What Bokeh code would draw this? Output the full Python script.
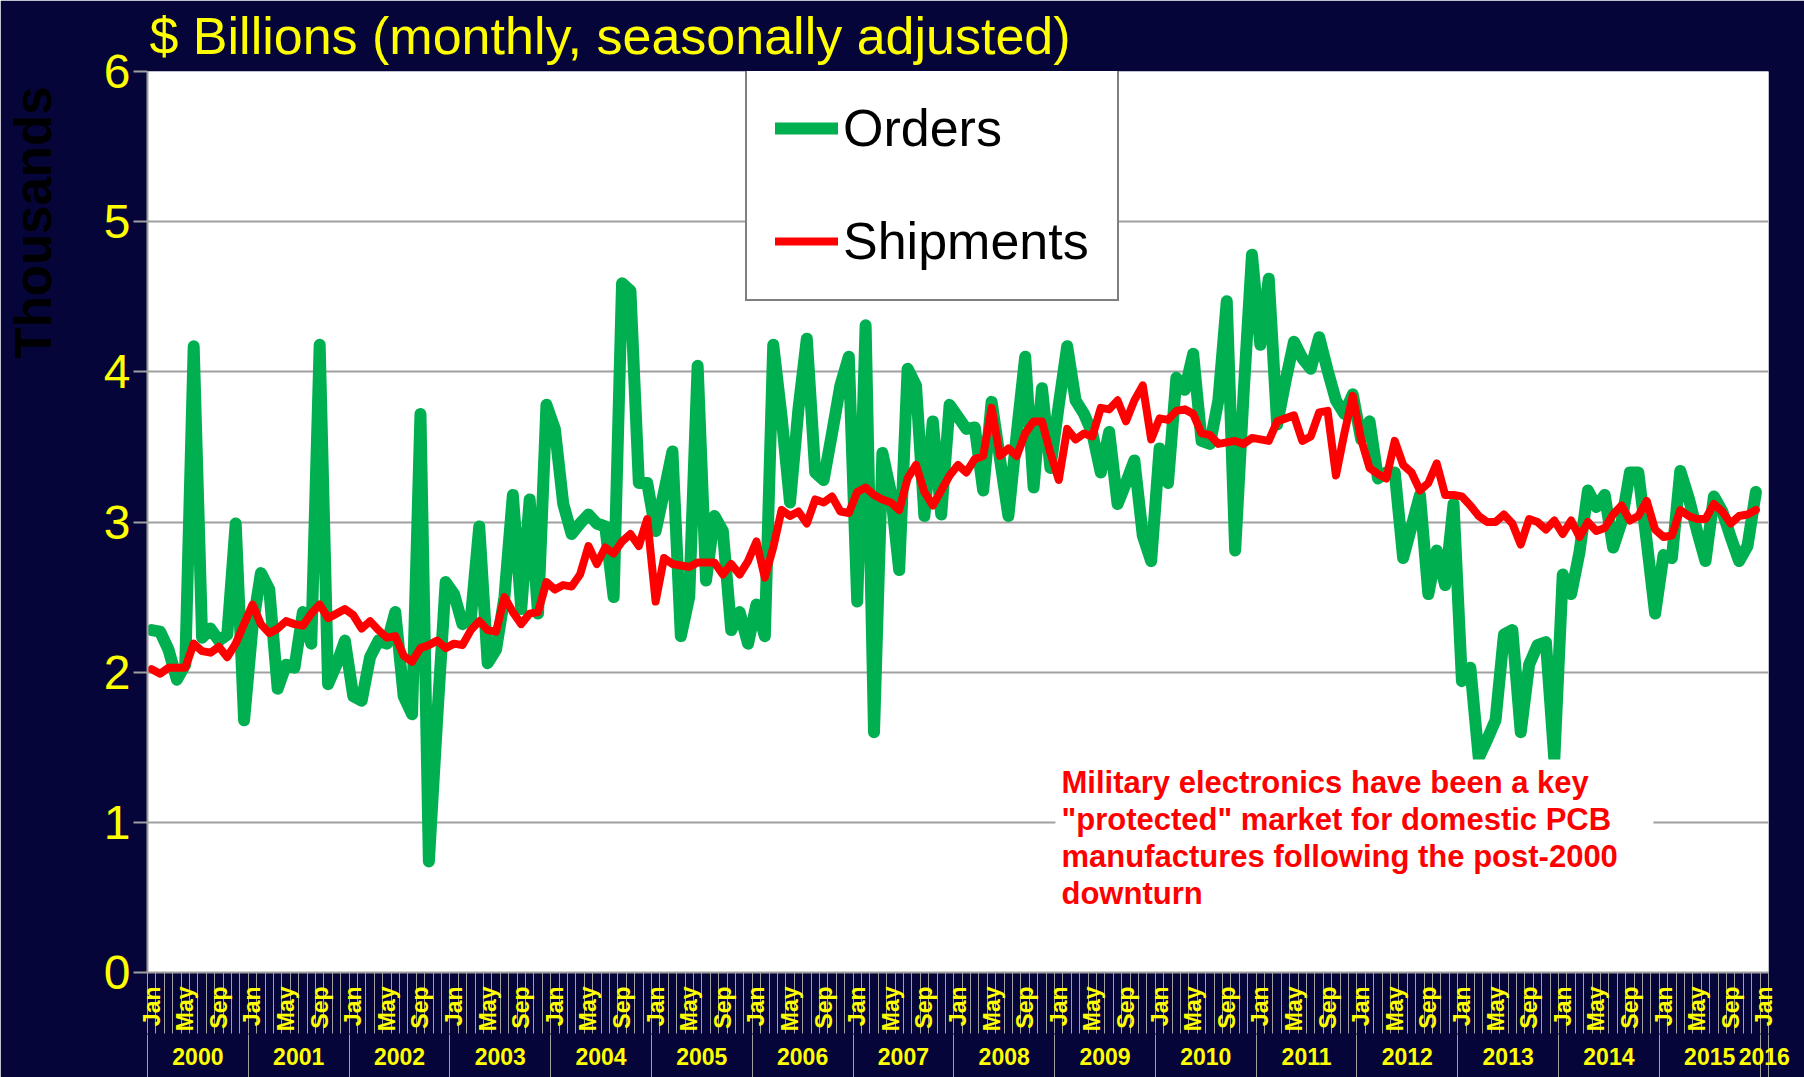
import math
from bokeh.plotting import figure
from bokeh.models import (Range1d, LinearAxis, FixedTicker, Label, Legend,
                          LegendItem, BoxAnnotation, Title)
from bokeh.embed import file_html
from bokeh.resources import INLINE

# ---------------- data (monthly, Jan 2000 .. Dec 2015) ----------------
orders = [
    2.28, 2.27, 2.15, 1.95, 2.05, 4.17, 2.23, 2.29, 2.21, 2.25,
    2.99, 1.68, 2.30, 2.66, 2.55, 1.89, 2.05, 2.03, 2.40, 2.19,
    4.18, 1.92, 2.05, 2.21, 1.84, 1.81, 2.10, 2.21, 2.19, 2.40,
    1.84, 1.72, 3.72, 0.74, 1.70, 2.60, 2.52, 2.32, 2.36, 2.97,
    2.06, 2.15, 2.50, 3.18, 2.42, 3.15, 2.39, 3.78, 3.62, 3.12,
    2.92, 2.99, 3.05, 2.99, 2.97, 2.50, 4.59, 4.54, 3.26, 3.26,
    2.94, 3.20, 3.47, 2.24, 2.50, 4.04, 2.61, 3.04, 2.94, 2.28,
    2.40, 2.19, 2.45, 2.24, 4.18, 3.70, 3.13, 3.75, 4.22, 3.33,
    3.28, 3.59, 3.91, 4.10, 2.47, 4.31, 1.60, 3.46, 3.20, 2.68,
    4.02, 3.91, 3.04, 3.67, 3.05, 3.78, 3.70, 3.62, 3.63, 3.21,
    3.80, 3.42, 3.04, 3.59, 4.10, 3.23, 3.89, 3.36, 3.78, 4.17,
    3.81, 3.72, 3.59, 3.33, 3.60, 3.12, 3.26, 3.41, 2.91, 2.74,
    3.49, 3.26, 3.96, 3.88, 4.12, 3.54, 3.52, 3.81, 4.47, 2.81,
    3.85, 4.78, 4.18, 4.62, 3.65, 3.94, 4.20, 4.09, 4.02, 4.23,
    4.01, 3.81, 3.72, 3.85, 3.55, 3.67, 3.29, 3.33, 3.33, 2.76,
    2.97, 3.18, 2.52, 2.81, 2.58, 3.12, 1.94, 2.03, 1.43, 1.55,
    1.68, 2.25, 2.28, 1.60, 2.05, 2.18, 2.20, 1.42, 2.65, 2.52,
    2.80, 3.21, 3.10, 3.18, 2.83, 3.00, 3.33, 3.33, 2.87, 2.39,
    2.78, 2.76, 3.34, 3.16, 2.94, 2.74, 3.17, 3.07, 2.90, 2.74,
    2.84, 3.20,
]
shipments = [
    2.02, 1.99, 2.03, 2.03, 2.03, 2.19, 2.14, 2.13, 2.17, 2.10,
    2.19, 2.32, 2.45, 2.32, 2.26, 2.29, 2.34, 2.32, 2.31, 2.39,
    2.45, 2.36, 2.39, 2.42, 2.38, 2.29, 2.34, 2.28, 2.23, 2.24,
    2.11, 2.07, 2.16, 2.18, 2.21, 2.16, 2.19, 2.18, 2.28, 2.34,
    2.28, 2.27, 2.50, 2.40, 2.32, 2.39, 2.40, 2.60, 2.55, 2.58,
    2.57, 2.65, 2.84, 2.72, 2.83, 2.79, 2.87, 2.92, 2.84, 3.02,
    2.47, 2.76, 2.72, 2.71, 2.70, 2.73, 2.73, 2.73, 2.65, 2.72,
    2.65, 2.74, 2.87, 2.63, 2.83, 3.08, 3.04, 3.07, 2.99, 3.15,
    3.13, 3.17, 3.07, 3.06, 3.20, 3.23, 3.18, 3.15, 3.13, 3.08,
    3.29, 3.38, 3.20, 3.11, 3.21, 3.31, 3.38, 3.33, 3.42, 3.44,
    3.76, 3.44, 3.49, 3.44, 3.59, 3.67, 3.67, 3.46, 3.28, 3.62,
    3.55, 3.59, 3.57, 3.76, 3.75, 3.81, 3.67, 3.81, 3.91, 3.55,
    3.69, 3.68, 3.74, 3.75, 3.72, 3.59, 3.58, 3.52, 3.53, 3.54,
    3.52, 3.56, 3.55, 3.54, 3.67, 3.69, 3.71, 3.54, 3.57, 3.73,
    3.74, 3.31, 3.59, 3.84, 3.55, 3.36, 3.32, 3.29, 3.54, 3.38,
    3.33, 3.21, 3.26, 3.39, 3.18, 3.18, 3.17, 3.11, 3.04, 3.00,
    3.00, 3.05, 2.99, 2.85, 3.02, 3.00, 2.95, 3.01, 2.92, 3.01,
    2.90, 3.00, 2.94, 2.96, 3.05, 3.11, 3.01, 3.04, 3.14, 2.95,
    2.90, 2.91, 3.08, 3.04, 3.02, 3.02, 3.12, 3.07, 2.99, 3.04,
    3.05, 3.08,
]
month_tick_labels = ["Jan", "May", "Sep"]
year_labels = ["2000", "2001", "2002", "2003", "2004", "2005", "2006", "2007",
               "2008", "2009", "2010", "2011", "2012", "2013", "2014", "2015",
               "2016"]
y_ticks = [0, 1, 2, 3, 4, 5, 6]
series_names = ["Orders", "Shipments"]
title_text = "$ Billions (monthly, seasonally adjusted)"
y_title = "Thousands"
note_lines = ["Military electronics have been a key",
              "\"protected\" market for domestic PCB",
              "manufactures following the post-2000",
              "downturn"]

# ---------------- layout / style ----------------
NAVY = "#05053a"
YELLOW = "#ffff00"
GRAY = "#a0a0a0"
GREEN = "#00b050"
RED = "#ff0000"
FONT = "Liberation Sans"

n_cat = 12 * (len(year_labels) - 1) + 1          # Jan 2000 .. Jan 2016
months = list(range(len(orders)))

p = figure(width=1804, height=1077,
           x_range=Range1d(-0.5, n_cat - 0.5), y_range=Range1d(0, 6),
           x_axis_type=None, output_backend="svg", toolbar_location=None,
           min_border_left=147, min_border_right=36, min_border_top=71,
           min_border_bottom=105, background_fill_color="white",
           border_fill_color=NAVY, outline_line_color=None)

# main title
p.title.text = title_text
p.title.text_font = FONT
p.title.text_font_size = "52px"
p.title.text_font_style = "normal"
p.title.text_color = YELLOW
p.title.align = "left"
p.title.offset = 2
p.title.vertical_align = "top"
p.title.standoff = 10

# y axis
ya = p.yaxis[0]
ya.ticker = FixedTicker(ticks=y_ticks)
ya.major_label_text_font = FONT
ya.major_label_text_font_size = "48px"
ya.major_label_text_color = YELLOW
ya.major_label_standoff = 3
ya.major_tick_out = 14
ya.major_tick_in = 0
ya.major_tick_line_color = GRAY
ya.major_tick_line_width = 2
ya.minor_tick_line_color = None
ya.minor_tick_out = 0
ya.axis_line_color = GRAY
ya.axis_line_width = 2
p.ygrid.ticker = FixedTicker(ticks=y_ticks)
p.ygrid.grid_line_color = GRAY
p.ygrid.grid_line_width = 2

# invisible spacer (one navy tick, no label) so that the y title sits at the far left
spacer = LinearAxis(ticker=FixedTicker(ticks=[0]), axis_line_color=None,
                    major_tick_line_color=NAVY, minor_tick_line_color=None,
                    major_tick_out=36, major_tick_in=0, minor_tick_out=0,
                    major_label_standoff=0, major_label_overrides={0: ""})
p.add_layout(spacer, "left")
p.add_layout(Title(text=y_title, align="right", offset=15, vertical_align="top",
                   standoff=2, text_font=FONT, text_font_style="bold",
                   text_font_size="51px", text_color="#000000"), "left")

# month axis
m_ticks = list(range(0, n_cat, 4))
m_bounds = [i - 0.5 for i in range(n_cat + 1)]
ax_m = LinearAxis(ticker=FixedTicker(ticks=m_ticks, minor_ticks=m_bounds))
ax_m.major_label_overrides = {t: month_tick_labels[k % 3] for k, t in enumerate(m_ticks)}
ax_m.major_label_orientation = math.pi / 2
ax_m.major_label_text_font = FONT
ax_m.major_label_text_font_style = "bold"
ax_m.major_label_text_font_size = "23px"
ax_m.major_label_text_color = YELLOW
ax_m.major_tick_out = 0
ax_m.major_tick_in = 0
ax_m.minor_tick_out = 61
ax_m.minor_tick_in = 0
ax_m.major_label_standoff = 14 - 61
ax_m.minor_tick_line_color = GRAY
ax_m.minor_tick_line_width = 1
ax_m.axis_line_color = GRAY
ax_m.axis_line_width = 2
p.add_layout(ax_m, "below")

# year axis
y_centers = [12 * k + 5.5 for k in range(len(year_labels) - 1)] + [n_cat - 1]
y_bounds = [12 * k - 0.5 for k in range(len(year_labels))] + [n_cat - 0.5]
ax_y = LinearAxis(ticker=FixedTicker(ticks=y_centers, minor_ticks=y_bounds))
ax_y.major_label_overrides = {t: year_labels[k] for k, t in enumerate(y_centers)}
ax_y.major_label_text_font = FONT
ax_y.major_label_text_font_style = "bold"
ax_y.major_label_text_font_size = "23px"
ax_y.major_label_text_color = YELLOW
ax_y.major_tick_out = 0
ax_y.major_tick_in = 0
ax_y.minor_tick_out = 44
ax_y.minor_tick_in = 0
ax_y.major_label_standoff = 13 - 44
ax_y.minor_tick_line_color = GRAY
ax_y.minor_tick_line_width = 1
ax_y.axis_line_color = None
p.add_layout(ax_y, "below")

# series
r_o = p.line(months, orders, line_color=GREEN, line_width=12,
             line_join="round", line_cap="round")
r_s = p.line(months, shipments, line_color=RED, line_width=8,
             line_join="round", line_cap="round")

# white note box (covers lines & grid)
p.add_layout(BoxAnnotation(left=107.6, right=178.8, bottom=0.35, top=1.418,
                           fill_color="white", fill_alpha=1.0, line_color=None))

for k, line in enumerate(note_lines):
    p.add_layout(Label(x=914, y=190 - 37 * k, x_units="screen", y_units="screen",
                       text=line, text_color=RED, text_font=FONT,
                       text_font_style="bold", text_font_size="31px",
                       text_baseline="alphabetic"))

# legend
legend = Legend(items=[LegendItem(label=series_names[0], renderers=[r_o]),
                       LegendItem(label=series_names[1], renderers=[r_s])],
                location=(598, 671), orientation="vertical",
                label_text_font=FONT, label_text_font_size="52px",
                label_text_color="black", glyph_width=63, glyph_height=60,
                label_height=60, label_standoff=5, padding=28, spacing=53,
                margin=0, border_line_color="black", border_line_width=2,
                background_fill_color="white", background_fill_alpha=1.0)
p.add_layout(legend)

html = file_html(p, INLINE)
html = html.replace("<body>", "<body style=\"background-color:%s;\">" % NAVY, 1)
open("out.html", "w").write(html)
